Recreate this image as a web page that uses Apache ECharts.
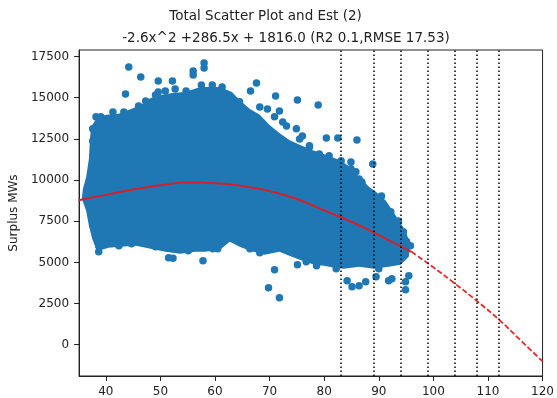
<!DOCTYPE html>
<html>
<head>
<meta charset="utf-8">
<script src="https://cdn.jsdelivr.net/npm/echarts@6/dist/echarts.min.js"></script>
<style>
  html, body { margin: 0; padding: 0; background: #fff; }
  #chart { width: 557px; height: 398px; }
</style>
</head>
<body>
<div id="chart"></div>
<script>
// tick labels
const xTicks = [40, 50, 60, 70, 80, 90, 100, 110, 120];
const yTicks = [0, 2500, 5000, 7500, 10000, 12500, 15000, 17500];

// outline of the dense cloud, clockwise from bottom left
const cloudEdge = [
  [38.2, 5830], [37.5, 6430], [36.9, 7220], [36.4, 8130], [35.6, 8860], [35.8, 9470],
  [36.4, 10190], [36.9, 11290], [37.1, 12500], [37.3, 13230], [38.2, 13710], [40.0, 13960],
  [42.2, 14020], [44.2, 14260], [46.4, 14560], [48.2, 14990], [50.0, 15170], [52.2, 15290],
  [54.5, 15350], [57.3, 15650], [60.9, 15650], [63.1, 15350], [64.5, 14870], [66.4, 14320],
  [68.2, 13960], [70.0, 13350], [71.8, 12860], [73.6, 12440], [75.5, 12140], [77.8, 11830],
  [80.4, 11530], [82.7, 11230], [84.5, 10860], [86.4, 10190], [88.2, 9590], [90.0, 9160],
  [91.3, 8740], [92.4, 8190], [93.6, 7590], [94.9, 6920], [95.8, 6070], [95.5, 5340],
  [94.0, 4850], [91.8, 4730], [89.1, 4610], [86.4, 4730], [83.6, 4610], [81.8, 4670],
  [80.0, 4790], [78.2, 4850], [75.5, 5160], [73.6, 5400], [71.8, 5640], [69.1, 5460],
  [66.4, 5700], [64.5, 5950], [62.7, 6250], [60.9, 5770], [58.2, 5640], [56.4, 5640],
  [53.6, 5520], [50.9, 5640], [48.2, 5830], [45.5, 6010], [42.7, 5950], [40.5, 5890],
  [38.7, 5700]
];

// points along the rim of the cloud
const rimPoints = [
  [37.6, 13110], [37.6, 12380], [38.2, 13840], [39.1, 13840], [41.3, 14140], [43.3, 14140],
  [47.3, 14810], [49.1, 15170], [50.9, 15410], [52.7, 15530], [54.7, 15410], [57.5, 15780],
  [59.5, 15780], [61.3, 15660], [62.7, 15110], [64.5, 14500], [73.1, 13290], [75.5, 12500],
  [77.3, 12010], [79.1, 11590], [80.9, 11470], [84.9, 10680], [86.4, 10070], [86.9, 9890],
  [90.5, 9040], [92.2, 8070], [94.5, 6860], [95.1, 6250],
  [38.7, 6010], [42.4, 6010], [44.7, 6130], [49.1, 5950], [55.1, 5700], [59.6, 5830],
  [60.5, 5830], [66.4, 5830], [68.2, 5580]
];

// single points standing out of the cloud
const outliers = [
  [44.2, 16870], [46.4, 16260], [43.6, 15230], [49.6, 16020], [52.2, 16020], [56.0, 16630],
  [56.0, 16380], [58.0, 17110], [58.0, 16810], [49.6, 15350], [46.0, 14500], [66.5, 15410],
  [67.6, 15900], [71.1, 15110], [75.1, 14870], [78.9, 14560], [80.4, 12560], [82.5, 12560],
  [86.0, 12440], [88.9, 10980], [83.1, 11170], [84.9, 11100], [71.8, 14200], [69.6, 14320],
  [68.2, 14440], [70.9, 13840], [72.4, 13530], [74.9, 13110], [76.0, 12680], [77.3, 12080],
  [64.5, 14750], [86.9, 9770], [85.8, 10500],
  [57.8, 5100], [70.9, 4550], [69.8, 3460], [71.8, 2850], [51.5, 5280], [52.3, 5250],
  [75.1, 4850], [76.7, 5040], [78.6, 4790], [38.7, 5650],
  [82.2, 4610], [84.2, 3880], [85.1, 3520], [86.4, 3580], [87.6, 3820], [89.5, 4130],
  [90.0, 4610], [91.8, 3880], [92.4, 4000], [94.9, 3340], [94.9, 3820], [95.5, 4190],
  [95.8, 6010], [94.9, 6310], [93.6, 7520]
];

// fitted curve, solid over the data, dashed beyond
const fitSolid = [
  [35, 8780], [40, 9100], [45, 9430], [50, 9680], [55, 9850], [60, 9810], [65, 9640],
  [70, 9330], [75, 8850], [80, 8150], [85, 7470], [90, 6660], [96, 5640]
];
const fitDashed = [
  [96, 5640], [100, 4700], [104, 3700], [108, 2650], [112, 1530], [116, 260], [120, -1010]
];

const cutoffs = [83, 89, 94, 99, 104, 108, 112];

const font = 'DejaVu Sans';
const blue = '#1f77b4';

const chart = echarts.init(document.getElementById('chart'));
chart.setOption({
  animation: false,
  backgroundColor: '#fff',
  graphic: [
    { type: 'text', x: 265.5, y: 16, style: { text: 'Total Scatter Plot and Est (2)', font: '13.5px "DejaVu Sans"', fill: '#222', align: 'center', verticalAlign: 'middle' } },
    { type: 'text', x: 286, y: 38, style: { text: '-2.6x^2 +286.5x + 1816.0 (R2 0.1,RMSE 17.53)', font: '13.5px "DejaVu Sans"', fill: '#222', align: 'center', verticalAlign: 'middle' } }
  ],
  grid: { left: 78, top: 50, width: 466, height: 327, show: true, borderColor: '#222', borderWidth: 1 },
  xAxis: {
    type: 'value', min: 35.1, max: 120,
    splitLine: { show: false },
    axisLine: { onZero: false, lineStyle: { color: '#222' } },
    axisTick: { length: 5, customValues: xTicks, lineStyle: { color: '#222' } },
    axisLabel: { customValues: xTicks, formatter: v => String(v), color: '#222', fontSize: 12, fontFamily: font, margin: 10 }
  },
  yAxis: {
    type: 'value', min: -1900, max: 17900,
    name: 'Surplus MWs', nameLocation: 'middle', nameRotate: 90, nameGap: 50,
    nameTextStyle: { color: '#222', fontSize: 12, fontFamily: font },
    splitLine: { show: false },
    axisLine: { show: true, onZero: false, lineStyle: { color: '#222' } },
    axisTick: { show: true, length: 5, customValues: yTicks, lineStyle: { color: '#222' } },
    axisLabel: { customValues: yTicks, formatter: v => String(v), color: '#222', fontSize: 12, fontFamily: font, margin: 10 }
  },
  series: [
    {
      type: 'custom',
      silent: true,
      data: [[60, 10000]],
      renderItem: function (params, api) {
        const pts = cloudEdge.map(p => api.coord(p));
        return { type: 'polygon', shape: { points: pts }, style: { fill: blue } };
      }
    },
    {
      type: 'scatter',
      silent: true,
      symbolSize: 7.5,
      itemStyle: { color: blue, opacity: 1 },
      data: rimPoints.concat(outliers)
    },
    {
      type: 'line',
      silent: true,
      smooth: true,
      symbol: 'none',
      lineStyle: { color: '#d4202a', width: 2 },
      data: fitSolid
    },
    {
      type: 'line',
      silent: true,
      smooth: true,
      symbol: 'none',
      lineStyle: { color: '#e8282a', width: 1.8, type: [5.5, 2.4] },
      data: fitDashed,
      markLine: {
        silent: true,
        symbol: 'none',
        label: { show: false },
        lineStyle: { color: '#000', width: 1.5, type: [1.5, 2.5] },
        data: cutoffs.map(v => ({ xAxis: v }))
      }
    }
  ]
});
</script>
</body>
</html>
